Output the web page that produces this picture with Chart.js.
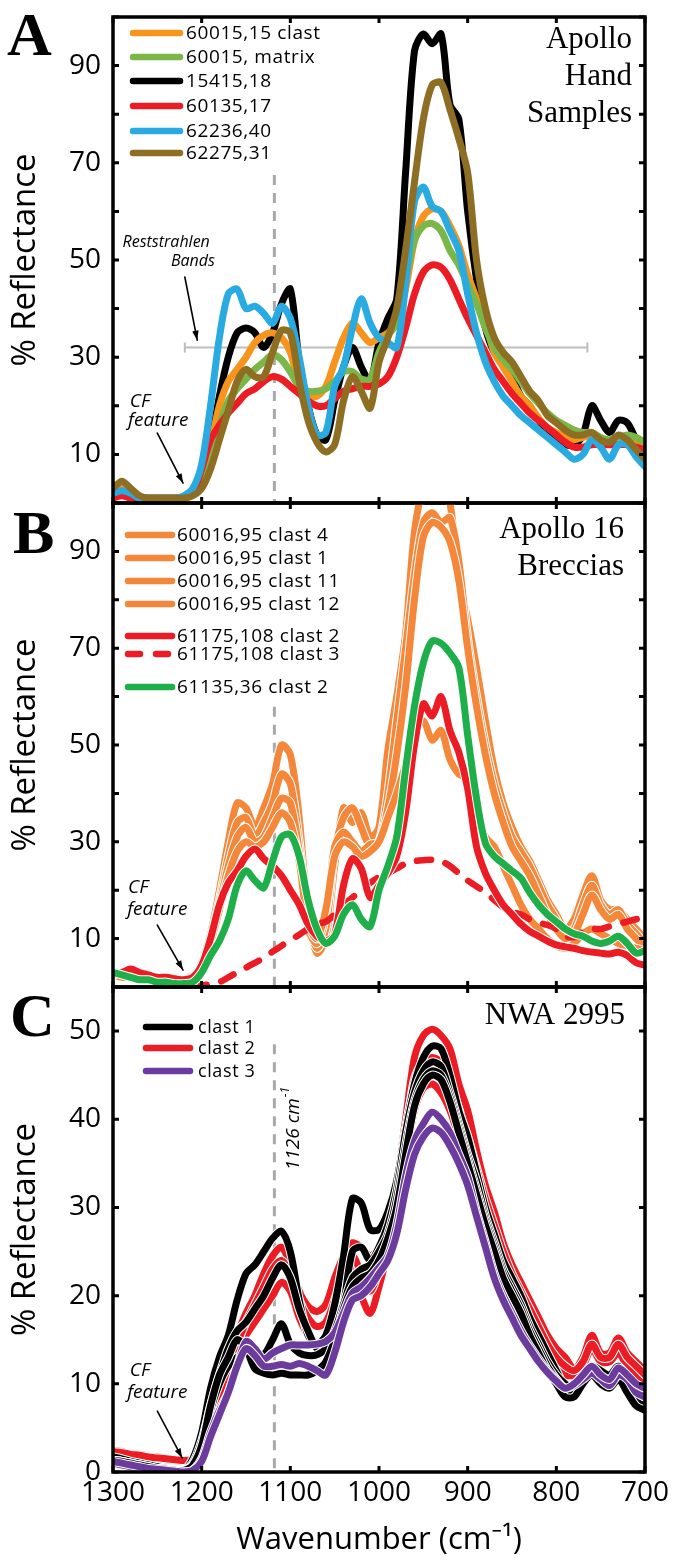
<!DOCTYPE html>
<html>
<head>
<meta charset="utf-8">
<title>Reflectance spectra</title>
<script src="https://cdn.jsdelivr.net/npm/chart.js@4.4.1/dist/chart.umd.min.js"></script>
<style>
  body { margin: 0; background: #fff; }
  #wrap { position: relative; width: 675px; height: 1563px; }
  #wrap canvas { position: absolute; left: 0; }
</style>
</head>
<body>
<div id="wrap">
  <canvas id="panelA" width="675" height="520" style="top:0px"></canvas>
  <canvas id="panelB" width="675" height="518" style="top:486px"></canvas>
  <canvas id="panelC" width="675" height="593" style="top:970px"></canvas>
</div>
<script>
// wavenumber grid (cm-1), shared by every spectrum
const wavenumber = [1300,1290,1280,1270,1260,1250,1240,1230,1220,1210,
  1200,1190,1180,1170,1160,1150,1140,1130,1120,1110,
  1100,1090,1080,1070,1060,1050,1040,1030,1020,1010,
  1000,990,980,970,960,950,940,930,920,910,
  900,890,880,870,860,850,840,830,820,810,
  800,790,780,770,760,750,740,730,720,710,
  700];

const xTicks = [1300, 1200, 1100, 1000, 900, 800, 700];
const yLabelsAB = [10, 30, 50, 70, 90];
const yLabelsC = [0, 10, 20, 30, 40, 50];
const markerWn = 1118;

// ---- A: Apollo hand samples
const namesA = ['60015,15 clast', '60015, matrix', '15415,18', '60135,17', '62236,40', '62275,31'];
const a60015clast = [2,3,2,1,1,1,1,1,1,2,
  6,12,20,25,27.5,30,33,34.5,35,34,
  31,24.5,22,22,24,29,34,37,35,33,
  34,35,37,44,54,59,60.5,60,57,53,
  47,42,37,31,28,25,22,20,17.5,15.5,
  14.5,13.5,13,13.5,14,13,12.5,13.5,13,12,
  11];
const a60015matrix = [1.5,2.5,2,1,1,1,1,1,1,2,
  5,10,16,21,23.5,25.5,27.5,29,30.5,29.5,
  27,24,23,23,23.5,25,27,27,25.5,25.5,
  31,34.5,37,46,54,57,57.5,56,52,49,
  45,41,36,32,29.5,27.5,25,22.5,20.5,18.5,
  17,16,15,14.5,14.5,13.5,13,13.5,14,13.5,
  12.5];
const a15415 = [2,3,2,1,1,1,1,1,1,2,
  5,12,22,30,35,36,35,32,35,41,
  44,29,20,14,13,21,28,32,28,25,
  33,38,42,68,93,96.5,94.5,96.5,82,79,
  60,46,36,31,29,26,22,20,17,15,
  13,12,12,14,20,17,14.5,17,16.5,13,
  10];
const a60135 = [1,1.5,1,1,1,1,1,1,1,2,
  7,13,16,18.5,20.5,22.5,23.5,25,26,25.5,
  24,22.5,21,20,20,21.5,23,23.5,24,24,
  24.5,26,30,36,43,47.5,49,48.5,46,42,
  38,34.5,31,27.5,25,22.5,20.5,18.5,17,15.5,
  14,12.5,11.5,11.5,12,12,12,12,12,11.5,
  11];
const a62236 = [2,2.5,2,1,1,1,1,1,1.5,3,
  8,20,34,43,44,40,40.5,39,37,40.5,
  38,30,20,14,14.5,24,28,36,42,37,
  34,33,32,45,62,65,61,60,56,52,
  43,35,29,25,22,20,18,16.5,15,13.5,
  12,10.5,9,10,13,11.5,9,12,12,9.5,
  7.5];
const a62275 = [3,4.5,3,1.5,1,1,1,1,1,1.5,
  3,7,13,19,25,27.5,26,26,31,35.5,
  35,25,17,12.5,10.5,12,21,26,23,19.5,
  29,34,40,52,66,79,86,86.5,81,75,
  68,50,40,34,31,29,26,23,21,18,
  16.5,15,14,14,14.5,13,12.5,14,13,11,
  9];

// ---- B: Apollo 16 breccias
const namesB = ['60016,95 clast 4', '60016,95 clast 1', '60016,95 clast 11', '60016,95 clast 12',
  '61175,108 clast 2', '61175,108 clast 3', '61135,36 clast 2'];
const b60016c4 = [2.5,2,2,1.5,1.5,1,1,0.8,0.8,1.5,
  5,11,20,30,38,37,33,37,42,50,
  48,35,15,7,10,25,37,34,36,31,
  33,49,60,73,94,103,104,103,100,84,
  76,66,55,45,38,33,29,26,22,18,
  15,12,14,19,23,18,16,16,14,12,
  10];
const b60016c1 = [2.5,2,2,1.5,1.5,1,1,0.8,0.8,1.5,
  4,10,18,27,34,35,31,34,38,44,
  42,30,14,8,12,28,35,37,33,29,
  30,40,55,70,85,96,98,96,97,88,
  72,60,50,42,36,31,28,25,21,17,
  14,11,12,17,21,17,15,16,13,11,
  9];
const b60016c11 = [2.5,2,2,1.5,1.5,1,1,0.8,0.8,1.5,
  4,9,17,25,31,33,30,31,35,39,
  38,28,12,9,15,29,32,30,28,29.5,
  30,37,48,62,80,93,96,95,92,84,
  70,58,48,40,34,29,26,23,19,15,
  12,10,11,15,19,16,14,15,12,10,
  8];
const b60016c12 = [2.5,2,2,1.5,1.5,1,1,0.8,0.8,1.5,
  4,9,16,23,28,30,29,30,33,36,
  34,26,13,10,16,27,30,29,27,28,
  30,35,40,46,53,55,51,53,47,44,
  43,36,31,29,25,21,17,14,12,10,
  8.5,8,9,11,12,11,10,9,8.5,8,
  7.5];
const b61175c2 = [2.5,3,3.7,3,2.5,2,2,1.7,1.5,2,
  4.5,10,17,21.5,24,27,28.5,26.5,25,23,
  20,17,13,10.5,9.5,11,21,26.5,24.5,18.5,
  21,23.5,27,36,50,58.5,56,60,53,48.5,
  41,29,23.5,20,17,15,13,11.5,10.5,9.5,
  8.7,8.3,8,7.5,7.2,7,6.8,7.2,6.5,5,
  4.5];
const b61175c3 = [null,null,null,null,null,null,null,null,null,0.2,
  0.3,0.6,1,2,3,4,5,6,7.3,8.5,
  9.7,10.8,12,13,13.5,15,17,18.5,20,21.5,
  22.7,23.5,24.5,25.5,26,26.2,26.3,26,25,23.5,
  22,20.8,19.5,18,16.5,15.5,15,14,13.3,12.8,
  12,10.5,10.3,11.5,12,12,12.5,13,13.5,14,
  14.5];
const b61135c2 = [3,2.5,2,1.5,1.5,1,1,0.7,0.7,1,
  3,6.5,9.5,14,21,24,22,20.5,26,31,
  31.5,27,18,12,9,10.5,15,17,14,12.5,
  20,25,31,45,58,67,71.5,71,69,66,
  52,39,29.7,27,25.5,24,22.5,19.5,17,15,
  13.5,12,11,10.5,9.5,9,9.5,10.5,9,7,
  7.5];

// ---- C: NWA 2995 (several spectra per clast)
const namesC = ['clast 1', 'clast 2', 'clast 3'];
const cClast1a = [1.7,1.5,1.2,1.0,0.8,0.6,0.4,0.2,0.2,1.5,
  4.5,9.5,13,15.5,19.5,22.5,23.5,25,26.5,27.3,
  25,19.5,15.5,14.5,15.5,19,24.5,31,30.5,27.5,
  27.5,29.5,33,39,44,47,48.3,48,45,41,
  38,34,30,27,24,22,20,17.5,15.5,13.5,
  11.5,9.5,8.5,10,11.5,11,10.5,11.5,10,8.5,
  7.5];
const cClast1b = [1.3,1.2,1.0,0.8,0.6,0.4,0.3,0.2,0.2,1,
  3.5,7.5,11,14,16,17,18.5,20,22,23.5,
  22,18.5,16,14,13.7,15.5,19,25,25.5,24,
  25.5,28,32,38.5,43,45.5,46.5,46,43,39.5,
  36,33,29,26,23,21,19,16.5,14.5,12.5,
  11,10,9.5,10.5,12,11.5,11,12,10.5,9,
  8.5];
const cClast1c = [1.3,1.2,1.0,0.8,0.6,0.4,0.3,0.2,0.2,0.8,
  3,7,10,12,13,13.5,13.5,13.3,15,16.8,
  14.5,13.5,13.2,13.3,14,16,19,22,23,23.5,
  25,27,31,37,42,44.5,45.5,45,42.5,39,
  35.5,32,28.5,25.5,22.5,20.5,18.5,16,14,12,
  10.5,9,9,10.5,11,10.5,10,11,9.5,8,
  7.5];
const cClast1d = [1.3,1.2,1.0,0.8,0.6,0.4,0.3,0.2,0.2,0.8,
  3,7.5,11,13,15,14,11.7,11.2,11,11.2,
  11,11,11,11.5,12.5,15,18.5,21,22,22.5,
  24,26.5,30,36,41.5,44,45,44.5,42,38.5,
  35,31.5,28,25,22,20,18,15.5,13.5,11.5,
  10,8.5,8.5,10,11,10,9.5,10.5,9,7.5,
  7];
const cClast2a = [2.4,2.3,2.1,2,1.8,1.7,1.5,1.4,1.3,1.6,
  2.5,5,8,12,15.5,18,20,22.5,24.5,25.5,
  23.5,20.5,18.8,18.2,19,22,24.5,26,25.5,24.5,
  25.5,28,33,40,47,49.5,50.2,49.5,48,44,
  41,36.5,32.5,29.5,26,23.5,21.5,19.5,17.5,15.5,
  14,13,11.7,13,15.5,13.5,13.5,15.2,13.5,12.5,
  11.5];
const cClast2b = [2.2,2.1,2,1.8,1.7,1.5,1.4,1.3,1.2,1.4,
  2,4.5,7.5,11,13.5,15.5,17,18.5,20,21.5,
  20.5,17.5,15.5,14.5,14.5,17,21,23,20,18,
  21,25,29.5,35.5,41,43.5,44,43,41,38,
  35,32,29,26.5,24,21.5,19.5,17.5,15.5,13.5,
  12,11,11,12,14,12.5,12.5,13.5,12,11,
  10];
const cClast2c = [2.3,2.2,2,1.9,1.7,1.6,1.5,1.4,1.3,1.5,
  2.3,4.8,8,11.5,14.5,17,19,21,23,24,
  22.5,19.5,17.5,16.5,17,19.5,22.5,24.5,22.5,20.5,
  23,26.5,31,38,44.5,46.5,47,46.5,44.5,41,
  38,34.5,31,28,25,22.5,20.5,18.5,16.5,14.5,
  13,12,11.5,12.5,14.5,13,13,14.5,13,12,
  11];
const cClast3a = [1,0.8,0.6,0.4,0.3,0.2,0.1,0,0,0.2,
  1.5,4.5,7,9,12,14.8,14,12.8,13.5,14,
  14.4,14.4,14.4,14.5,14.8,15.8,18,20.3,21,22,
  23.2,24.5,28,33.5,37.5,39.5,40.8,40,38.5,36,
  33.5,29.5,26,22.5,20,18,16,14.3,12.8,11.5,
  10.5,9.5,9.8,10.5,11.2,10.5,9.8,11,10.5,9,
  8.5];
const cClast3b = [1.2,1,0.8,0.6,0.4,0.3,0.2,0.1,0,0.2,
  1.2,4,6.5,9,12,14,13.2,12,12,12.2,
  12,12.3,12,11.5,11,13.5,17,19.5,20,21,
  22.5,24,27,32,36,38,39,38.5,37,35,
  32.5,29,25.5,22,19.5,17.5,15.5,14,12.5,11.3,
  10.3,9.5,10,11,12,11,10.5,11.8,11,10,
  9.5];

// ---- styles
const FONT = '"Open Sans", "Noto Sans", sans-serif';
const SERIF = '"Liberation Serif", "DejaVu Serif", serif';
const colorsA = ['#f7941d', '#7ab648', '#000000', '#ed1c24', '#29abe2', '#8d6e23'];
const colorsB = ['#f4873a', '#f4873a', '#f4873a', '#f4873a', '#ec1c24', '#ec1c24', '#1eae4a'];
const colorsC = ['#000000', '#ec1c24', '#6c3b9e'];
const DASH = [14, 15];

function toXY(vals) {
  return wavenumber.map((w, i) => ({ x: w, y: vals[i] }));
}

function lineSet(vals, color, width, dash) {
  return {
    data: toXY(vals),
    borderColor: color,
    borderWidth: width,
    borderDash: dash || [],
    borderCapStyle: 'round',
    borderJoinStyle: 'round',
    pointRadius: 0,
    tension: 0.3,
    fill: false,
    clip: 0
  };
}

// white halo underneath, like the outlined strokes of the original
function haloSet(vals, color, width, dash) {
  return [lineSet(vals, '#ffffff', width + 2, dash), lineSet(vals, color, width, dash)];
}

function arrow(ctx, x1, y1, x2, y2) {
  ctx.save();
  ctx.strokeStyle = '#000';
  ctx.fillStyle = '#000';
  ctx.lineWidth = 1.6;
  ctx.beginPath();
  ctx.moveTo(x1, y1);
  ctx.lineTo(x2, y2);
  ctx.stroke();
  const a = Math.atan2(y2 - y1, x2 - x1);
  const h = 10;
  ctx.beginPath();
  ctx.moveTo(x2, y2);
  ctx.lineTo(x2 - h * Math.cos(a - 0.33), y2 - h * Math.sin(a - 0.33));
  ctx.lineTo(x2 - h * Math.cos(a + 0.33), y2 - h * Math.sin(a + 0.33));
  ctx.closePath();
  ctx.fill();
  ctx.restore();
}

function decorPlugin(p) {
  return {
    id: 'decor',
    beforeDatasetsDraw(chart) {
      const { ctx, chartArea: a, scales: { x, y } } = chart;
      ctx.save();
      ctx.strokeStyle = '#a9a9a9';
      ctx.lineWidth = 3;
      ctx.setLineDash([10, 8]);
      const px = x.getPixelForValue(markerWn);
      ctx.beginPath();
      ctx.moveTo(px, y.getPixelForValue(p.dashTop));
      ctx.lineTo(px, a.bottom);
      ctx.stroke();
      ctx.restore();
      if (p.under) p.under(ctx, x, y);
    },
    afterDatasetsDraw(chart) {
      const { ctx, chartArea: a, scales: { x, y } } = chart;
      ctx.save();
      ctx.strokeStyle = '#000';
      ctx.lineWidth = 3;
      xTicks.forEach(t => {
        const px = x.getPixelForValue(t);
        ctx.beginPath();
        ctx.moveTo(px, a.top); ctx.lineTo(px, a.top + 6);
        ctx.moveTo(px, a.bottom); ctx.lineTo(px, a.bottom - 6);
        ctx.stroke();
      });
      y.ticks.forEach(t => {
        if (t.value % 10 !== 0) return;
        const py = y.getPixelForValue(t.value);
        ctx.beginPath();
        ctx.moveTo(a.left, py); ctx.lineTo(a.left + 6, py);
        ctx.moveTo(a.right, py); ctx.lineTo(a.right - 6, py);
        ctx.stroke();
      });
      ctx.lineWidth = 3.5;
      ctx.strokeRect(a.left, a.top, a.right - a.left, a.bottom - a.top);
      ctx.restore();
    },
    afterDraw(chart) {
      const { ctx, scales: { x, y } } = chart;
      ctx.save();
      ctx.fillStyle = '#000';
      // panel letter
      ctx.font = 'bold 62px ' + SERIF;
      ctx.textAlign = 'left';
      ctx.textBaseline = 'alphabetic';
      ctx.fillText(p.letter, p.letterPos[0], p.letterPos[1]);
      // sample title
      ctx.font = '31px ' + SERIF;
      ctx.textAlign = 'right';
      p.title.forEach((t, i) => ctx.fillText(t, p.titleRight, p.titleBase[i]));
      // legend
      const L = p.legend;
      ctx.textAlign = 'left';
      ctx.textBaseline = 'middle';
      ctx.font = L.size + 'px ' + FONT;
      ctx.letterSpacing = '0.6px';
      L.names.forEach((n, i) => {
        const yy = L.rows[i];
        ctx.strokeStyle = L.colors[i];
        ctx.lineWidth = 6.5;
        ctx.lineCap = 'round';
        ctx.setLineDash(L.dashed && L.dashed[i] ? [12, 16] : []);
        ctx.beginPath();
        ctx.moveTo(L.x1, yy);
        ctx.lineTo(L.x2, yy);
        ctx.stroke();
        ctx.fillText(n, L.tx, yy + 1);
      });
      ctx.setLineDash([]);
      ctx.letterSpacing = '0px';
      // CF feature note
      const c = p.cf;
      ctx.font = 'italic 19px ' + FONT;
      ctx.fillText('CF', x.getPixelForValue(c.cf[0]), y.getPixelForValue(c.cf[1]));
      ctx.fillText('feature', x.getPixelForValue(c.feat[0]), y.getPixelForValue(c.feat[1]));
      arrow(ctx, x.getPixelForValue(c.from[0]), y.getPixelForValue(c.from[1]),
        x.getPixelForValue(c.to[0]), y.getPixelForValue(c.to[1]));
      if (p.over) p.over(ctx, x, y);
      ctx.restore();
    }
  };
}

function makeChart(id, datasets, p) {
  const isC = p.showX;
  return new Chart(document.getElementById(id), {
    type: 'line',
    // datasets listed bottom-to-top; Chart.js paints index 0 last, so flip
    data: { datasets: datasets.slice().reverse() },
    options: {
      responsive: false,
      animation: false,
      devicePixelRatio: 1,
      layout: { padding: { left: 0, right: 30, top: 17, bottom: isC ? 0 : 17 } },
      plugins: { legend: { display: false }, tooltip: { enabled: false } },
      scales: {
        x: {
          type: 'linear',
          min: 700,
          max: 1300,
          reverse: true,
          grid: { display: false, drawTicks: false },
          border: { display: false },
          ticks: {
            display: isC,
            stepSize: 100,
            autoSkip: false,
            maxRotation: 0,
            padding: 4,
            color: '#000',
            font: { family: FONT, size: 28 },
            callback: v => xTicks.includes(v) ? String(v) : ''
          },
          title: {
            display: isC,
            text: 'Wavenumber (cm\u207B\u00B9)',
            color: '#000',
            font: { family: FONT, size: 31 },
            padding: { top: 0, bottom: 4 }
          },
          afterFit: s => {
            s.height = isC ? 91 : 0;
            s.paddingLeft = 0; s.paddingRight = 0;
          }
        },
        y: {
          min: 0,
          max: p.yMax,
          grid: { display: false, drawTicks: false },
          border: { display: false },
          ticks: {
            stepSize: 10,
            padding: 12,
            color: '#000',
            font: { family: FONT, size: 28 },
            callback: v => p.yLabels.includes(v) ? String(v) : ''
          },
          title: {
            display: true,
            text: '% Reflectance',
            color: '#000',
            font: { family: FONT, size: 33 },
            padding: { top: 6, bottom: 0 }
          },
          afterFit: s => {
            s.width = 113;
            s.paddingTop = 0; s.paddingBottom = 0;
          }
        }
      }
    },
    plugins: [decorPlugin(p)]
  });
}

// ---- panel A (bottom to top)
const orderA = [2, 0, 1, 3, 4, 5];
const seriesA = [a60015clast, a60015matrix, a15415, a60135, a62236, a62275];
const dsA = orderA.map(i => lineSet(seriesA[i], colorsA[i], 7));
makeChart('panelA', dsA, {
  yMax: 100, yLabels: yLabelsAB, dashTop: 67.5,
  letter: 'A', letterPos: [7, 55],
  title: ['Apollo', 'Hand', 'Samples'], titleRight: 632, titleBase: [48, 85, 122],
  legend: { names: namesA, colors: colorsA, x1: 133, x2: 180, tx: 186, size: 19,
    rows: [33, 57, 81, 106, 131, 153] },
  cf: { cf: [1281, 20.8], feat: [1283, 16.9], from: [1250, 14.4], to: [1221, 4.1] },
  under(ctx, x, y) {
    const yy = y.getPixelForValue(32);
    const x1 = x.getPixelForValue(1219), x2 = x.getPixelForValue(765);
    ctx.save();
    ctx.strokeStyle = '#bdbdbd';
    ctx.lineWidth = 2;
    ctx.beginPath();
    ctx.moveTo(x1, yy); ctx.lineTo(x2, yy);
    ctx.moveTo(x1, yy - 5); ctx.lineTo(x1, yy + 5);
    ctx.moveTo(x2, yy - 5); ctx.lineTo(x2, yy + 5);
    ctx.stroke();
    ctx.restore();
  },
  over(ctx, x, y) {
    ctx.font = 'italic 16px ' + FONT;
    ctx.textAlign = 'center';
    ctx.fillText('Reststrahlen', x.getPixelForValue(1240), y.getPixelForValue(53.7));
    ctx.textAlign = 'right';
    ctx.fillText('Bands', x.getPixelForValue(1185), y.getPixelForValue(49.8));
    arrow(ctx, x.getPixelForValue(1219), y.getPixelForValue(46.5),
      x.getPixelForValue(1205), y.getPixelForValue(33.5));
  }
});

// ---- panel B (bottom to top: oranges, dashed red, red, green)
const seriesB = [b60016c4, b60016c1, b60016c11, b60016c12, b61175c3, b61175c2, b61135c2];
const colorB = [colorsB[0], colorsB[1], colorsB[2], colorsB[3], colorsB[5], colorsB[4], colorsB[6]];
const dsB = [];
seriesB.forEach((v, i) => {
  if (i === 4) dsB.push(lineSet(v, colorB[i], 6.5, DASH));
  else dsB.push(...haloSet(v, colorB[i], 7));
});
makeChart('panelB', dsB, {
  yMax: 100, yLabels: yLabelsAB, dashTop: 57.9,
  letter: 'B', letterPos: [13, 67],
  title: ['Apollo 16', 'Breccias'], titleRight: 624, titleBase: [52, 89],
  legend: { names: namesB, colors: colorsB, x1: 128, x2: 172, tx: 177, size: 19,
    dashed: [false, false, false, false, false, true, false],
    rows: [49, 72, 95, 118, 150, 168, 201] },
  cf: { cf: [1283, 20.5], feat: [1284, 15.9], from: [1250, 12.8], to: [1221, 3.5] }
});

// ---- panel C (bottom to top: red, black, purple)
const dsC = [];
[cClast2a, cClast2b, cClast2c].forEach(v => dsC.push(...haloSet(v, colorsC[1], 7)));
[cClast1a, cClast1b, cClast1c, cClast1d].forEach(v => dsC.push(...haloSet(v, colorsC[0], 7)));
[cClast3a, cClast3b].forEach(v => dsC.push(...haloSet(v, colorsC[2], 7)));
makeChart('panelC', dsC, {
  yMax: 55, yLabels: yLabelsC, dashTop: 48.5, showX: true,
  letter: 'C', letterPos: [10, 66],
  title: ['NWA 2995'], titleRight: 625, titleBase: [54],
  legend: { names: namesC, colors: colorsC, x1: 146, x2: 190, tx: 198, size: 18,
    rows: [57, 78, 101] },
  cf: { cf: [1281, 11.5], feat: [1284, 9.0], from: [1250, 6.9], to: [1222, 1.6] },
  over(ctx, x, y) {
    ctx.save();
    ctx.translate(x.getPixelForValue(1096), y.getPixelForValue(38.9));
    ctx.rotate(-Math.PI / 2);
    ctx.font = 'italic 19px ' + FONT;
    ctx.textBaseline = 'middle';
    ctx.textAlign = 'left';
    const main = '1126 cm';
    const w = ctx.measureText(main).width;
    ctx.font = 'italic 12px ' + FONT;
    const ws = ctx.measureText('-1').width;
    const x0 = -(w + ws) / 2;
    ctx.font = 'italic 19px ' + FONT;
    ctx.fillText(main, x0, 0);
    ctx.font = 'italic 12px ' + FONT;
    ctx.fillText('-1', x0 + w + 1, -8);
    ctx.restore();
  }
});
</script>
</body>
</html>
